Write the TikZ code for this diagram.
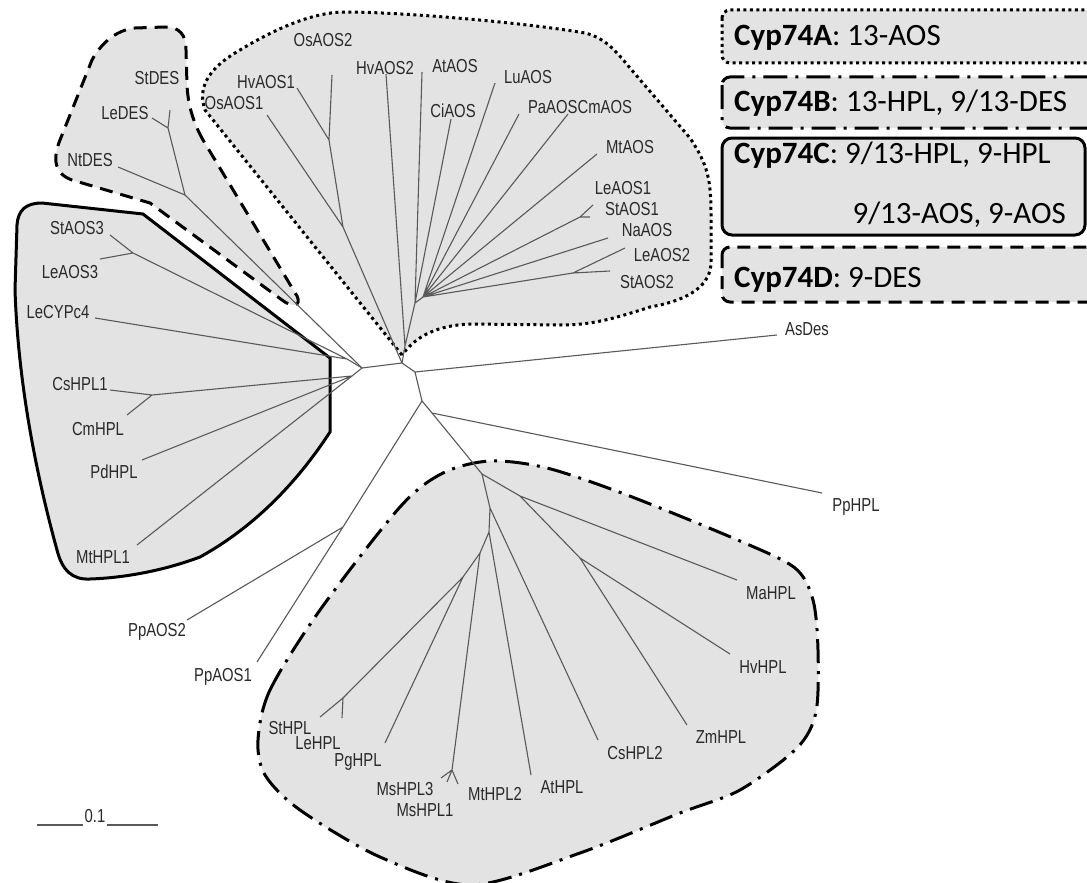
\documentclass[tikz,border=0pt]{standalone}
\usepackage{fontspec}
\setmainfont{Liberation Sans}
\newfontfamily\labfont[FakeStretch=0.79]{Liberation Sans}
\newfontfamily\legfont{Carlito}
\definecolor{cfill}{gray}{0.89}
\definecolor{treec}{gray}{0.35}
\definecolor{labc}{gray}{0.16}
\tikzset{
  branch/.style={draw=treec, line width=1.1pt},
  lab/.style={font=\labfont\fontsize{18.8}{21}\selectfont, text=labc, inner sep=0pt},
  bnd/.style={line width=3pt, fill=cfill, draw=black},
  dotb/.style={bnd, dash pattern=on 3pt off 3.5pt},
  dashb/.style={bnd, dash pattern=on 13pt off 8pt},
  dashdotb/.style={bnd, dash pattern=on 24pt off 8pt on 3pt off 8pt},
  solidb/.style={bnd},
  leg/.style={font=\legfont\fontsize{31}{37}\selectfont, inner sep=0pt, anchor=west},
  scalebar/.style={draw=treec, line width=1.4pt}
}
\begin{document}
\begin{tikzpicture}[x=1pt,y=-1pt]
\clip (0,0) rectangle (1087,883);
\fill[white] (0,0) rectangle (1087,883);

% ---------- clade regions ----------
% Cyp74A (dotted)
\draw[dotb] (402,355) -- (205,110) .. controls (198,90) and (205,70) .. (240,50)
  .. controls (270,32) and (310,12) .. (345,12) .. controls (400,12) and (520,22) .. (585,33)
  .. controls (605,38) and (615,50) .. (630,68) -- (690,138)
  .. controls (708,165) and (711,180) .. (711,215) -- (711,262)
  .. controls (711,285) and (690,300) .. (650,307) .. controls (610,320) and (590,325) .. (560,325)
  -- (470,324) .. controls (425,326) and (410,345) .. cycle;
% Cyp74D (dashed)
\draw[dashb] (203,140) .. controls (193,122) and (188,105) .. (187,85) -- (186,50)
  .. controls (186,35) and (180,27) .. (165,27) -- (135,28)
  .. controls (115,30) and (100,45) .. (92,60) -- (60,140)
  .. controls (52,160) and (55,174) .. (72,180) -- (150,203) -- (282,300)
  .. controls (292,308) and (302,306) .. (297,296) -- cycle;
% Cyp74C (solid)
\draw[solidb] (143,214) -- (330,358) -- (330,432) .. controls (300,478) and (258,525) .. (200,557)
  .. controls (160,572) and (120,578) .. (90,579) .. controls (72,580) and (62,570) .. (57,550)
  .. controls (35,470) and (18,380) .. (15,290) -- (17,225)
  .. controls (18,210) and (26,203) .. (42,203) -- cycle;
% Cyp74B (dash-dot)
\draw[dashdotb] plot[smooth cycle, tension=0.5] coordinates {(258,740) (270,690) (320,610) (400,507)
  (443,473) (490,461) (547,468) (627,495) (740,541) (795,568) (813,600) (818,650) (816,712)
  (797,748) (740,790) (680,813) (580,853) (472,885) (380,857) (300,810) (265,775)};

% ---------- legend ----------
\draw[dotb, rounded corners=8pt] (722,10) rectangle (1100,63);
\draw[dashdotb, rounded corners=8pt] (722,77) rectangle (1100,128);
\draw[solidb, rounded corners=10pt] (722,138) rectangle (1085,235);
\draw[dashb, rounded corners=8pt] (722,247) rectangle (1100,302);
\node[leg] (legA) at (734,38) {\textbf{Cyp74A}: 13-AOS};
\node[leg] (legB) at (734,103) {\textbf{Cyp74B}: 13-HPL, 9/13-DES};
\node[leg] (legC1) at (734,155) {\textbf{Cyp74C}: 9/13-HPL, 9-HPL};
\node[leg, anchor=east] (legC2) at (1066,215) {9/13-AOS, 9-AOS};
\node[leg] (legD) at (734,280) {\textbf{Cyp74D}: 9-DES};

% ---------- internal nodes ----------
\coordinate (L) at (362,368);
\coordinate (La) at (347,359);
\coordinate (Lb) at (352,376);
\coordinate (T) at (402,363);
\coordinate (R) at (415,372);
\coordinate (B) at (422,401);
\coordinate (Q) at (432,413);
\coordinate (P) at (343,527);
\coordinate (C1) at (482,474);
\coordinate (C1b) at (520,496);
\coordinate (HZ) at (580,558);
\coordinate (C2) at (490,508);
\coordinate (C3) at (489,532);
\coordinate (C4) at (480,553);
\coordinate (C5) at (463,577);
\coordinate (SL) at (343,698);
\coordinate (MS) at (452,770);
\coordinate (DESj) at (185,195);
\coordinate (DESk) at (168,128);
\coordinate (AOS3j) at (133,253);
\coordinate (CsCm) at (152,395);
\coordinate (J1) at (329,140);
\coordinate (J2) at (343,227);
\coordinate (H0) at (405,346);
\coordinate (H) at (415,303);
\coordinate (H2) at (423,297);
\coordinate (LS1) at (580,217);
\coordinate (LS2) at (573,273);

% ---------- leaf ends ----------
\coordinate (eStDES) at (170,110);
\coordinate (eLeDES) at (152,118);
\coordinate (eNtDES) at (118,167);
\coordinate (eStAOS3) at (110,235);
\coordinate (eLeAOS3) at (100,259);
\coordinate (eLeCYPc4) at (95,318);
\coordinate (eCsHPL1) at (110,390);
\coordinate (eCmHPL) at (127,415);
\coordinate (ePdHPL) at (142,460);
\coordinate (eMtHPL1) at (137,545);
\coordinate (ePpAOS2) at (187,620);
\coordinate (ePpAOS1) at (257,662);
\coordinate (eOsAOS2) at (332,75);
\coordinate (eHvAOS1) at (297,88);
\coordinate (eOsAOS1) at (267,115);
\coordinate (eHvAOS2) at (386,74);
\coordinate (eAtAOS) at (422,72);
\coordinate (eCiAOS) at (451,119);
\coordinate (eLuAOS) at (495,83);
\coordinate (ePaAOS) at (519,114);
\coordinate (eCmAOS) at (568,114);
\coordinate (eMtAOS) at (597,154);
\coordinate (eLeAOS1) at (593,205);
\coordinate (eStAOS1) at (590,217);
\coordinate (eNaAOS) at (608,238);
\coordinate (eLeAOS2) at (625,248);
\coordinate (eStAOS2) at (610,271);
\coordinate (eAsDes) at (777,335);
\coordinate (ePpHPL) at (822,493);
\coordinate (eMaHPL) at (737,580);
\coordinate (eHvHPL) at (730,654);
\coordinate (eZmHPL) at (687,725);
\coordinate (eCsHPL2) at (598,740);
\coordinate (eAtHPL) at (531,775);
\coordinate (eMs3) at (441,778);
\coordinate (eMs1) at (447,782);
\coordinate (eMt2) at (458,784);
\coordinate (ePgHPL) at (385,743);
\coordinate (eLeHPL) at (342,718);
\coordinate (eStHPL) at (320,717);

% ---------- branches ----------
\draw[branch] (eStDES) -- (DESk) (eLeDES) -- (DESk) (DESk) -- (DESj) (eNtDES) -- (DESj) (DESj) -- (L);
\draw[branch] (eStAOS3) -- (AOS3j) (eLeAOS3) -- (AOS3j) (AOS3j) -- (La) (eLeCYPc4) -- (La) (La) -- (L);
\draw[branch] (eCsHPL1) -- (CsCm) (eCmHPL) -- (CsCm) (CsCm) -- (Lb) (ePdHPL) -- (Lb) (eMtHPL1) -- (Lb) (Lb) -- (L);
\draw[branch] (L) -- (T) (T) -- (J2) (J2) -- (J1) (J2) -- (eOsAOS1) (J1) -- (eHvAOS1) (J1) -- (eOsAOS2);
\draw[branch] (T) -- (H0) (H0) -- (H) (H0) -- (eHvAOS2) (H) -- (eAtAOS) (H) -- (eCiAOS) (H) -- (H2);
\draw[branch] (H2) -- (eLuAOS) (H2) -- (ePaAOS) (H2) -- (eCmAOS) (H2) -- (eMtAOS) (H2) -- (LS1) (H2) -- (eNaAOS) (H2) -- (LS2);
\draw[branch] (LS1) -- (eLeAOS1) (LS1) -- (eStAOS1) (LS2) -- (eLeAOS2) (LS2) -- (eStAOS2);
\draw[branch] (T) -- (R) (R) -- (eAsDes) (R) -- (B) (B) -- (P) (P) -- (ePpAOS2) (P) -- (ePpAOS1);
\draw[branch] (B) -- (Q) (Q) -- (ePpHPL) (Q) -- (C1) (C1) -- (C1b) (C1b) -- (eMaHPL) (C1b) -- (HZ) (HZ) -- (eHvHPL) (HZ) -- (eZmHPL);
\draw[branch] (C1) -- (C2) (C2) -- (eCsHPL2) (C2) -- (C3) (C3) -- (eAtHPL) (C3) -- (C4) (C4) -- (MS) (MS) -- (eMs3) (MS) -- (eMs1) (MS) -- (eMt2);
\draw[branch] (C4) -- (C5) (C5) -- (SL) (SL) -- (eStHPL) (SL) -- (eLeHPL) (C5) -- (ePgHPL);

% ---------- labels ----------
\node[lab] (tStDES) at (157,78) {StDES};
\node[lab] (tLeDES) at (125,113) {LeDES};
\node[lab] (tNtDES) at (90,160) {NtDES};
\node[lab] (tOsAOS2) at (323,40) {OsAOS2};
\node[lab] (tHvAOS1) at (266,82) {HvAOS1};
\node[lab] (tOsAOS1) at (234,103) {OsAOS1};
\node[lab] (tHvAOS2) at (385,68) {HvAOS2};
\node[lab] (tAtAOS) at (455,66) {AtAOS};
\node[lab] (tCiAOS) at (453,111) {CiAOS};
\node[lab] (tLuAOS) at (528,77) {LuAOS};
\node[lab] (tPaCm) at (580,107) {PaAOSCmAOS};
\node[lab] (tMtAOS) at (630,147) {MtAOS};
\node[lab] (tLeAOS1) at (623,188) {LeAOS1};
\node[lab] (tStAOS1) at (632,209) {StAOS1};
\node[lab] (tNaAOS) at (647,230) {NaAOS};
\node[lab] (tLeAOS2) at (662,255) {LeAOS2};
\node[lab] (tStAOS2) at (647,282) {StAOS2};
\node[lab] (tStAOS3) at (77,228) {StAOS3};
\node[lab] (tLeAOS3) at (70,272) {LeAOS3};
\node[lab] (tLeCYPc4) at (58,312) {LeCYPc4};
\node[lab] (tCsHPL1) at (80,384) {CsHPL1};
\node[lab] (tCmHPL) at (98,429) {CmHPL};
\node[lab] (tPdHPL) at (114,472) {PdHPL};
\node[lab] (tMtHPL1) at (103,557) {MtHPL1};
\node[lab] (tPpAOS2) at (157,632) {PpAOS2};
\node[lab] (tPpAOS1) at (223,677) {PpAOS1};
\node[lab] (tAsDes) at (807,329) {AsDes};
\node[lab] (tPpHPL) at (856,507) {PpHPL};
\node[lab] (tMaHPL) at (771,593) {MaHPL};
\node[lab] (tHvHPL) at (763,667) {HvHPL};
\node[lab] (tZmHPL) at (721,737) {ZmHPL};
\node[lab] (tCsHPL2) at (635,753) {CsHPL2};
\node[lab] (tAtHPL) at (562,787) {AtHPL};
\node[lab] (tMtHPL2) at (495,794) {MtHPL2};
\node[lab] (tMsHPL3) at (405,789) {MsHPL3};
\node[lab] (tMsHPL1) at (425,810) {MsHPL1};
\node[lab] (tPgHPL) at (358,762) {PgHPL};
\node[lab] (tLeHPL) at (318,743) {LeHPL};
\node[lab] (tStHPL) at (290,728) {StHPL};

% ---------- scale bar ----------
\coordinate (s1) at (37,825);
\coordinate (s2) at (83,825);
\coordinate (s3) at (107,825);
\coordinate (s4) at (158,825);
\node[lab] (sb) at (95,816) {0.1};
\draw[scalebar] (s1) -- (s2) (s3) -- (s4);
\end{tikzpicture}
\end{document}
